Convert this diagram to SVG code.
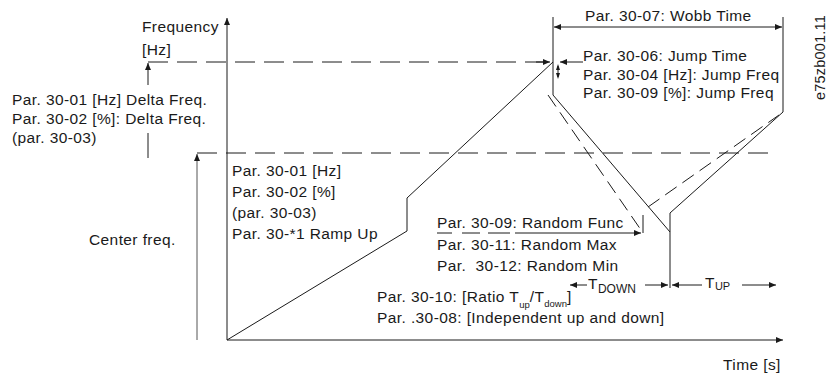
<svg xmlns="http://www.w3.org/2000/svg" width="830" height="378" viewBox="0 0 830 378">
<style>
.t{font-family:"Liberation Sans",Arial,sans-serif;font-size:15.5px;letter-spacing:0.4px;fill:#1a1a1a}
.s{font-size:12px;letter-spacing:0}
.ss{font-size:9.5px;letter-spacing:0}
.l{fill:none;stroke:#1a1a1a;stroke-width:1}
.d{stroke-dasharray:20 9}
.dd{stroke-dasharray:14 7}
.a{marker-end:url(#ah)}
.b{marker-start:url(#ah);marker-end:url(#ah)}
</style>
<defs>
<marker id="ah" markerUnits="userSpaceOnUse" markerWidth="8" markerHeight="6" refX="7" refY="3" orient="auto-start-reverse">
<path d="M0,0 L7,3 L0,6 z" fill="#1a1a1a"/>
</marker>
</defs>
<rect width="830" height="378" fill="#fff"/>
<g id="axes">
<path class="l a" d="M227,340 L227,18"/>
<path class="l a" d="M227,340 L783,340"/>
</g>
<g id="reference-lines">
<path class="l d" d="M148,62 L550,62"/>
<path class="l a" d="M536,62 L550,62"/>
<path class="l d" d="M197,153 L775,153"/>
</g>
<g id="curves">
<path class="l" d="M227,340 L407,231 L407,198 L553,62 L553,95 L670,232"/>
<path class="l" d="M670,288 L670,213 L783,112 L783,17"/>
<path class="l" d="M553,17 L553,62"/>
<path class="l dd" d="M548,95 L641,230"/>
<path class="l dd" d="M648,207 L779,115"/>
</g>
<g id="connectors">
<path class="l a" d="M148,85 L148,63"/>
<path class="l" d="M148,133 L148,158"/>
<path class="a" d="M197,340 L197,154" fill="none" stroke="#555" stroke-width="1"/>
<path class="l b" d="M554,27 L782,27"/>
<path class="l a" d="M583,62 L560,62"/>
<path class="l" d="M558,66 L558,77"/>
<path d="M556,70 L558,64 L560,70 z M556,73 L558,79 L560,73 z" fill="#1a1a1a"/>
<path class="l" d="M437,233 L452,233 M462,233 L480,233 M488,233 L510,233"/>
<path class="l a" d="M515,233 L641,233"/>
<path class="l" d="M643,215 L643,233"/>
<path class="l a" d="M587,285 L570,285"/>
<path class="l a" d="M645,285 L668,285"/>
<path class="l a" d="M702,285 L672,285"/>
<path class="l a" d="M742,285 L776,285"/>
</g>
<g id="labels-left">
<text class="t" x="142" y="32">Frequency</text>
<text class="t" x="142" y="55">[Hz]</text>
<text class="t" x="12" y="105">Par. 30-01 [Hz] Delta Freq.</text>
<text class="t" x="12" y="124">Par. 30-02 [%]: Delta Freq.</text>
<text class="t" x="12" y="143">(par. 30-03)</text>
<text class="t" x="89" y="245">Center freq.</text>
</g>
<g id="labels-ramp">
<text class="t" x="232" y="176">Par. 30-01 [Hz]</text>
<text class="t" x="232" y="197">Par. 30-02 [%]</text>
<text class="t" x="232" y="218">(par. 30-03)</text>
<text class="t" x="232" y="239">Par. 30-*1 Ramp Up</text>
</g>
<g id="labels-wobble">
<text class="t" x="585" y="21">Par. 30-07: Wobb Time</text>
<text class="t" x="583" y="61">Par. 30-06: Jump Time</text>
<text class="t" x="583" y="80">Par. 30-04 [Hz]: Jump Freq</text>
<text class="t" x="583" y="98">Par. 30-09 [%]: Jump Freq</text>
</g>
<g id="labels-random">
<text class="t" x="437" y="228">Par. 30-09: Random Func</text>
<text class="t" x="437" y="250">Par. 30-11: Random Max</text>
<text class="t" x="437" y="271" xml:space="preserve">Par.  30-12: Random Min</text>
<text class="t" x="377" y="302">Par. 30-10: [Ratio T<tspan class="ss" dy="6">up</tspan><tspan dy="-6">/T</tspan><tspan class="ss" dy="5">down</tspan><tspan dy="-5">]</tspan></text>
<text class="t" x="377" y="323">Par. .30-08: [Independent up and down]</text>
<text class="t" x="588" y="289">T<tspan class="s" dy="4">DOWN</tspan></text>
<text class="t" x="705" y="288">T<tspan class="s" dy="2" style="font-size:11px">UP</tspan></text>
<text class="t" x="723" y="370">Time [s]</text>
</g>
<g id="code">
<text class="t" transform="translate(825,100) rotate(-90)" style="font-size:14.5px;letter-spacing:0.2px">e75zb001.11</text>
</g>
</svg>
